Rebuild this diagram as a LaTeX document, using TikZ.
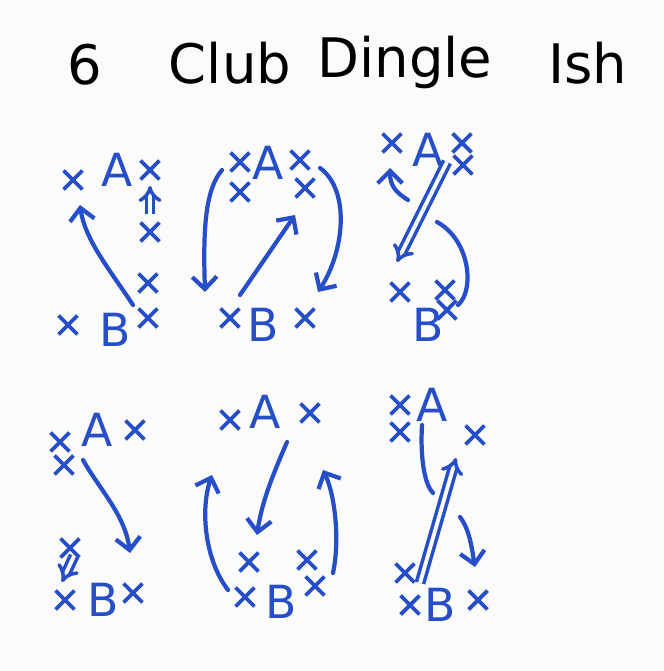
\documentclass[tikz,border=0pt]{standalone}
\usepackage{fontspec}
\setmainfont{DejaVu Sans}
\usetikzlibrary{arrows.meta,shapes.misc}
\definecolor{pen}{RGB}{38,78,200}
\definecolor{paper}{RGB}{251,251,251}
\tikzset{
  xmark/.style={cross out,draw=pen,line width=2.2pt,minimum size=0.3cm,inner sep=0pt},
  letter/.style={text=pen,font=\fontsize{26}{26}\selectfont,inner sep=0pt},
  stroke/.style={draw=pen,line width=2.4pt,line cap=round,line join=round},
  dblstroke/.style={draw=pen,double=paper,double distance=2.2pt,line width=2pt},
  title/.style={font=\fontsize{31}{31}\selectfont,inner sep=0pt}
}

\begin{document}
\begin{tikzpicture}[x=0.02cm,y=-0.02cm,>={Straight Barb[length=7pt,width=14pt]}]
  \fill[paper] (0,0) rectangle (663,671);
  \useasboundingbox (0,0) rectangle (663,671);
  \node[title] (t6) at (85,65) {6};
  \node[title] (tclub) at (230,63) {Club};
  \node[title] (tdingle) at (405,62) {Dingle};
  \node[title] (tish) at (588,63) {Ish};
  % top left
  \node[letter] (a1) at (117,170) {A};
  \node[letter] (b1) at (115,330) {B};
  \node[xmark] (p1a) at (73,180) {};
  \node[xmark] (p1b) at (150,170) {};
  \node[xmark] (p1c) at (150,232) {};
  \node[xmark] (p1d) at (148,283) {};
  \node[xmark] (p1e) at (148,318) {};
  \node[xmark] (p1f) at (68,325) {};
  \coordinate (c1s) at (133,305);
  \coordinate (c1e) at (80,205);
  \coordinate (c1u) at (150,214);
  \coordinate (c1v) at (150,186);
  \draw[stroke,->] (c1s) .. controls (110,270) and (85,240) .. (c1e);
  \draw[dblstroke,-{Implies[length=5pt,width=12pt]}] (c1u) -- (c1v);
  % top middle
  \node[letter] (a2) at (268,163) {A};
  \node[letter] (b2) at (263,325) {B};
  \node[xmark] (p2a) at (240,162) {};
  \node[xmark] (p2b) at (300,160) {};
  \node[xmark] (p2c) at (240,192) {};
  \node[xmark] (p2d) at (305,188) {};
  \node[xmark] (p2e) at (230,318) {};
  \node[xmark] (p2f) at (305,318) {};
  \coordinate (c2a) at (222,170);
  \coordinate (c2b) at (205,292);
  \coordinate (c2c) at (240,295);
  \coordinate (c2d) at (295,215);
  \coordinate (c2e) at (320,168);
  \coordinate (c2f) at (318,292);
  \draw[stroke,->] (c2a) .. controls (205,190) and (203,230) .. (c2b);
  \draw[stroke,->] (c2c) -- (c2d);
  \draw[stroke,->] (c2e) .. controls (350,190) and (345,250) .. (c2f);
  % top right
  \node[letter] (a3) at (428,150) {A};
  \node[letter] (b3) at (428,325) {B};
  \node[xmark] (p3a) at (392,143) {};
  \node[xmark] (p3b) at (462,143) {};
  \node[xmark] (p3c) at (463,165) {};
  \node[xmark] (p3d) at (400,292) {};
  \node[xmark] (p3e) at (445,290) {};
  \node[xmark] (p3f) at (447,310) {};
  \coordinate (c3a) at (408,200);
  \coordinate (c3b) at (390,168);
  \coordinate (c3c) at (447,162);
  \coordinate (c3d) at (397,262);
  \coordinate (c3e) at (437,222);
  \coordinate (c3f) at (458,305);
  \draw[stroke,->] (c3a) .. controls (395,192) and (390,185) .. (c3b);
  \draw[dblstroke,-{Implies[length=7pt,width=16pt]}] (c3c) -- (c3d);
  \draw[stroke] (c3e) .. controls (470,240) and (475,290) .. (c3f);
  % bottom left
  \node[letter] (a4) at (97,430) {A};
  \node[letter] (b4) at (103,600) {B};
  \node[xmark] (p4a) at (60,442) {};
  \node[xmark] (p4b) at (135,430) {};
  \node[xmark] (p4c) at (64,465) {};
  \node[xmark] (p4d) at (70,548) {};
  \node[xmark] (p4e) at (65,600) {};
  \node[xmark] (p4f) at (133,593) {};
  \coordinate (c4a) at (83,460);
  \coordinate (c4b) at (130,553);
  \coordinate (c4c) at (74,556);
  \coordinate (c4d) at (62,582);
  \draw[stroke,->] (c4a) .. controls (100,490) and (125,515) .. (c4b);
  \draw[dblstroke,-{Implies[length=5pt,width=12pt]}] (c4c) -- (c4d);
  % bottom middle
  \node[letter] (a5) at (265,412) {A};
  \node[letter] (b5) at (281,602) {B};
  \node[xmark] (p5a) at (230,420) {};
  \node[xmark] (p5b) at (310,413) {};
  \node[xmark] (p5c) at (249,562) {};
  \node[xmark] (p5d) at (307,560) {};
  \node[xmark] (p5e) at (245,597) {};
  \node[xmark] (p5f) at (315,586) {};
  \coordinate (c5a) at (287,442);
  \coordinate (c5b) at (257,535);
  \coordinate (c5c) at (228,590);
  \coordinate (c5d) at (212,475);
  \coordinate (c5e) at (333,573);
  \coordinate (c5f) at (323,470);
  \draw[stroke,->] (c5a) .. controls (275,470) and (262,500) .. (c5b);
  \draw[stroke,->] (c5c) .. controls (205,560) and (200,510) .. (c5d);
  \draw[stroke,->] (c5e) .. controls (340,540) and (335,495) .. (c5f);
  % bottom right
  \node[letter] (a6) at (432,405) {A};
  \node[letter] (b6) at (440,605) {B};
  \node[xmark] (p6a) at (400,405) {};
  \node[xmark] (p6b) at (400,432) {};
  \node[xmark] (p6c) at (475,435) {};
  \node[xmark] (p6d) at (405,573) {};
  \node[xmark] (p6e) at (410,605) {};
  \node[xmark] (p6f) at (478,600) {};
  \coordinate (c6a) at (422,425);
  \coordinate (c6b) at (433,493);
  \coordinate (c6c) at (420,583);
  \coordinate (c6d) at (456,458);
  \coordinate (c6e) at (460,517);
  \coordinate (c6f) at (475,567);
  \draw[stroke] (c6a) .. controls (420,460) and (425,485) .. (c6b);
  \draw[dblstroke,-{Implies[length=7pt,width=16pt]}] (c6c) -- (c6d);
  \draw[stroke,->] (c6e) .. controls (470,530) and (472,550) .. (c6f);
\end{tikzpicture}
\end{document}
